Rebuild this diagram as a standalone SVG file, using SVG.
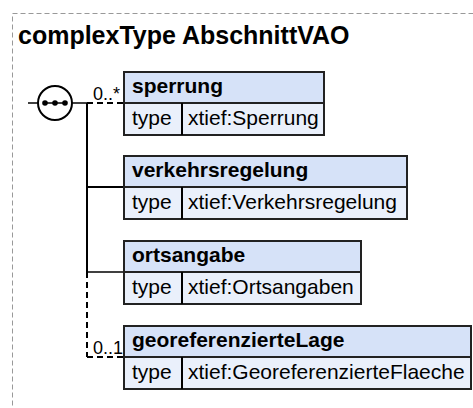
<svg xmlns="http://www.w3.org/2000/svg" width="473" height="408" viewBox="0 0 473 408">
  <style>
    .frame { fill: #ffffff; stroke: #999999; stroke-width: 1; stroke-dasharray: 5 3; }
    .title { font-family: "Liberation Sans", Arial, sans-serif; font-weight: bold; font-size: 25px; fill: #000000; }
    .hdr { fill: #d6e2f8; stroke: #222222; stroke-width: 2; }
    .body { fill: #eaf0fb; stroke: #222222; stroke-width: 2; }
    .name { font-family: "Liberation Sans", Arial, sans-serif; font-weight: bold; font-size: 21px; fill: #000000; }
    .txt { font-family: "Liberation Sans", Arial, sans-serif; font-size: 21px; fill: #000000; }
    .card { font-family: "Liberation Sans", Arial, sans-serif; font-size: 18px; fill: #000000; }
    .ln { fill: none; stroke: #000000; stroke-width: 2; }
    .dash { fill: none; stroke: #000000; stroke-width: 2; stroke-dasharray: 6 4; }
    .thin { fill: none; stroke: #000000; stroke-width: 1.5; }
  </style>
  <rect class="frame" x="12.5" y="13.5" width="480" height="420"/>
  <text class="title" x="18" y="44">complexType AbschnittVAO</text>

  <g id="connectors">
    <line class="thin" x1="28" y1="103" x2="38" y2="103"/>
    <line class="thin" x1="72" y1="103" x2="87" y2="103"/>
    <line class="dash" x1="87" y1="103" x2="124" y2="103"/>
    <line class="ln" x1="87" y1="103" x2="87" y2="272"/>
    <line class="ln" x1="87" y1="187" x2="124" y2="187"/>
    <line class="thin" x1="87" y1="272" x2="124" y2="272"/>
    <line class="dash" x1="87" y1="272" x2="87" y2="357"/>
    <line class="dash" x1="87" y1="357" x2="124" y2="357"/>
    <text class="card" x="93" y="100">0..*</text>
    <text class="card" x="93" y="354">0..1</text>
  </g>

  <g id="sequence">
    <circle cx="55" cy="103" r="17" fill="#ffffff" stroke="#000000" stroke-width="2"/>
    <line class="thin" x1="44" y1="103" x2="66" y2="103"/>
    <circle cx="45" cy="103" r="2.8" fill="#000000"/>
    <circle cx="55" cy="103" r="2.8" fill="#000000"/>
    <circle cx="65" cy="103" r="2.8" fill="#000000"/>
  </g>

  <g id="sperrung">
    <rect class="hdr" x="124" y="72" width="200" height="31"/>
    <rect class="body" x="124" y="103" width="200" height="32"/>
    <line class="ln" x1="182" y1="103" x2="182" y2="135"/>
    <text class="name" x="132" y="93">sperrung</text>
    <text class="txt" x="132" y="125">type</text>
    <text class="txt" x="188" y="125">xtief:Sperrung</text>
  </g>

  <g id="verkehrsregelung">
    <rect class="hdr" x="124" y="156" width="283" height="31"/>
    <rect class="body" x="124" y="187" width="283" height="32"/>
    <line class="ln" x1="182" y1="187" x2="182" y2="219"/>
    <text class="name" x="132" y="177">verkehrsregelung</text>
    <text class="txt" x="132" y="209">type</text>
    <text class="txt" x="188" y="209">xtief:Verkehrsregelung</text>
  </g>

  <g id="ortsangabe">
    <rect class="hdr" x="124" y="241" width="237" height="31"/>
    <rect class="body" x="124" y="272" width="237" height="32"/>
    <line class="ln" x1="182" y1="272" x2="182" y2="304"/>
    <text class="name" x="132" y="262">ortsangabe</text>
    <text class="txt" x="132" y="294">type</text>
    <text class="txt" x="188" y="294">xtief:Ortsangaben</text>
  </g>

  <g id="georeferenzierteLage">
    <rect class="hdr" x="124" y="326" width="347" height="31"/>
    <rect class="body" x="124" y="357" width="347" height="32"/>
    <line class="ln" x1="182" y1="357" x2="182" y2="389"/>
    <text class="name" x="132" y="347">georeferenzierteLage</text>
    <text class="txt" x="132" y="379">type</text>
    <text class="txt" x="188" y="379">xtief:GeoreferenzierteFlaeche</text>
  </g>
</svg>
